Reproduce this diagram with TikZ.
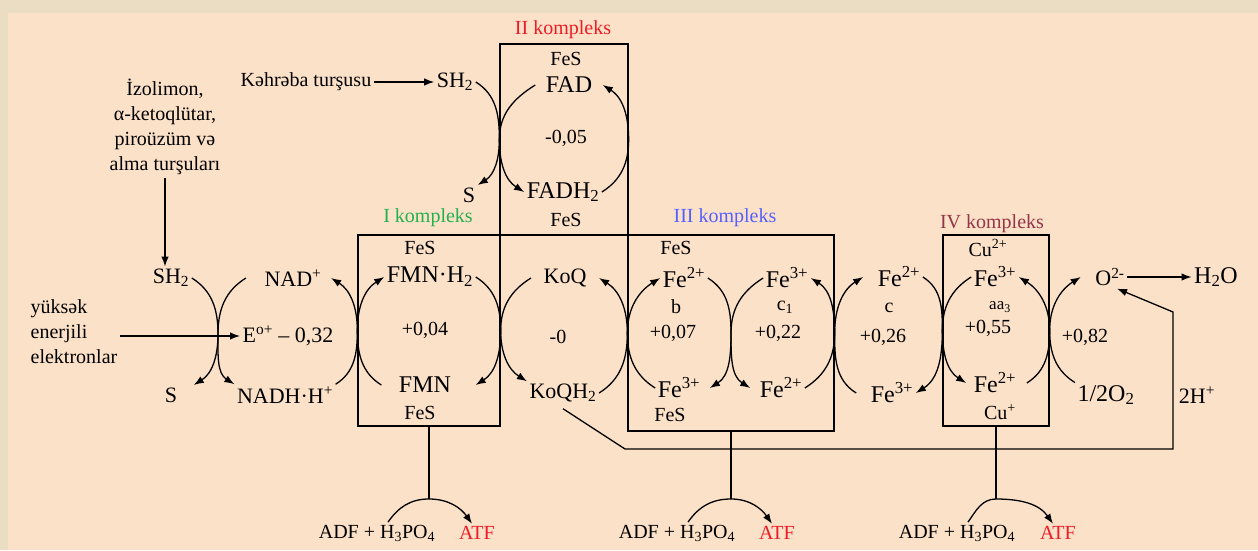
\documentclass[tikz,border=0pt]{standalone}
\usepackage{fontspec}
\setmainfont{Liberation Serif}
\usetikzlibrary{arrows.meta}
\definecolor{pagetan}{RGB}{234,221,196}
\definecolor{peach}{RGB}{252,225,201}
\definecolor{kred}{RGB}{238,28,36}
\definecolor{kgreen}{RGB}{34,177,76}
\definecolor{kblue}{RGB}{84,96,255}
\definecolor{kbrown}{RGB}{150,52,72}

\begin{document}
\begin{tikzpicture}[x=1pt,y=1pt,line width=1.3pt,
  big/.style={inner sep=2pt, font=\fontsize{24}{26}\selectfont},
  chem/.style={inner sep=2pt, font=\fontsize{22}{24}\selectfont},
  note/.style={inner sep=2pt, font=\fontsize{20}{25}\selectfont},
  cplx/.style={draw, inner sep=0pt},
  arr/.style={-{Latex[length=10pt,width=7.5pt]}}]
  % page
  \fill[pagetan] (0,0) rectangle (1258,550);
  \fill[peach] (8,0) rectangle (1258,537);
  \useasboundingbox (0,0) rectangle (1258,550);
  % complexes
  \node[cplx, minimum width=142pt, minimum height=191pt] (boxI) at (429,219.5) {};
  \node[cplx, minimum width=128pt, minimum height=191pt] (boxII) at (564,410.5) {};
  \node[cplx, minimum width=206pt, minimum height=196pt] (boxIII) at (731,217) {};
  \node[cplx, minimum width=106pt, minimum height=191pt] (boxIV) at (996,219.5) {};
  \node[note, text=kred] (kII) at (563,520) {II kompleks};
  \node[note, text=kgreen] (kI) at (428,332) {I kompleks};
  \node[note, text=kblue] (kIII) at (725,332) {III kompleks};
  \node[note, text=kbrown] (kIV) at (992,326) {IV kompleks};
  % substrates
  \node[note, align=center] (izol) at (165,423) {İzolimon,\\α-ketoqlütar,\\piroüzüm və\\alma turşuları};
  \node[note] (kah) at (306,468) {Kəhrəba turşusu};
  \node[note, align=left, anchor=west] (yuk) at (28,218) {yüksək\\enerjili\\elektronlar};
  \node[chem] (sh2a) at (455,468) {SH\textsubscript{2}};
  \node[chem] (s2) at (469,355) {S};
  \node[chem] (sh2b) at (171,272) {SH\textsubscript{2}};
  \node[chem] (s1) at (171,155) {S};
  \node[chem] (nad) at (293,272) {NAD\textsuperscript{+}};
  \node[chem] (nadh) at (285,155) {NADH·H\textsuperscript{+}};
  \node[chem, anchor=west] (e1) at (240,214) {E\textsuperscript{o+} – 0,32};
  % II kompleks
  \node[note] (fes2a) at (566,491) {FeS};
  \node[big] (fad) at (569,465) {FAD};
  \node[note] (e2) at (566,412) {-0,05};
  \node[big] (fadh) at (563,358) {FADH\textsubscript{2}};
  \node[note] (fes2b) at (566,330) {FeS};
  % I kompleks
  \node[note] (fes1a) at (420,302) {FeS};
  \node[big] (fmnh) at (430,273) {FMN·H\textsubscript{2}};
  \node[note] (e3) at (425,220) {+0,04};
  \node[big] (fmn) at (425,165) {FMN};
  \node[note] (fes1b) at (420,137) {FeS};
  % ubiquinone
  \node[chem] (koq) at (565,272) {KoQ};
  \node[note] (e4) at (558,213) {-0};
  \node[chem] (koqh) at (563,157) {KoQH\textsubscript{2}};
  % III kompleks
  \node[note] (fes3a) at (676,302) {FeS};
  \node[big] (fe2a) at (684,272) {Fe\textsuperscript{2+}};
  \node[note] (lb) at (676,243) {b};
  \node[note] (e5) at (673,217) {+0,07};
  \node[big] (fe3a) at (679,162) {Fe\textsuperscript{3+}};
  \node[note] (fes3b) at (670,135) {FeS};
  \node[big] (fe3b) at (787,272) {Fe\textsuperscript{3+}};
  \node[note] (lc1) at (785,243) {c\textsubscript{1}};
  \node[note] (e6) at (778,217) {+0,22};
  \node[big] (fe2b) at (781,162) {Fe\textsuperscript{2+}};
  % cytochrome c
  \node[big] (fe2c) at (899,273) {Fe\textsuperscript{2+}};
  \node[note] (lc) at (889,242) {c};
  \node[note] (e7) at (883,213) {+0,26};
  \node[big] (fe3c) at (892,157) {Fe\textsuperscript{3+}};
  % IV kompleks
  \node[note] (cu2) at (988,302) {Cu\textsuperscript{2+}};
  \node[big] (fe3d) at (995,273) {Fe\textsuperscript{3+}};
  \node[note, font=\fontsize{17}{20}\selectfont] (aa) at (1000,243) {aa\textsubscript{3}};
  \node[note] (e8) at (988,222) {+0,55};
  \node[big] (fe2d) at (995,167) {Fe\textsuperscript{2+}};
  \node[note] (cu1) at (1000,138) {Cu\textsuperscript{+}};
  % oxygen
  \node[chem] (o2) at (1110,273) {O\textsuperscript{2-}};
  \node[big] (h2o) at (1216,273) {H\textsubscript{2}O};
  \node[note] (e9) at (1085,213) {+0,82};
  \node[big] (half) at (1106,155) {1/2O\textsubscript{2}};
  \node[chem] (hplus) at (1197,155) {2H\textsuperscript{+}};
  % phosphorylation
  \foreach \i/\xa/\xb in {1/377/477, 2/677/777, 3/957/1058} {
    \node[note] (adf\i) at (\xa,17) {ADF + H\textsubscript{3}PO\textsubscript{4}};
    \node[note, text=kred] (atf\i) at (\xb,17) {ATF};
  }
  \coordinate (x1) at (218,216);
  \coordinate (base) at (0,51);
  % straight feeds
  \draw[arr] (kah.east) -- (sh2a.west);
  \draw[arr] (izol.south) -- (izol.south |- sh2b.north);
  \draw[arr] (yuk.east |- e1.west) -- (e1.west);
  \draw[arr] (o2.east) -- (h2o.west);
  % right bulge, arrow at the bottom
  \foreach \a/\sa/\c/\b/\sb in {
    sh2b.east/0pt/x1/s1.north east/14pt,
    fmnh.east/0pt/boxI.east/fmn.east/22pt,
    fe2a.east/0pt/boxIII.center/fe3a.east/7pt,
    fe2c.east/0pt/boxIV.west/fe3c.east/0pt,
    sh2a.east/0pt/boxII.west/s2.north east/0pt}
    \draw[arr] ([xshift=\sa]\a) to[out=-32,in=90] (\c) to[out=-90,in=32] ([xshift=\sb]\b);
  % left bulge, arrow at the bottom
  \foreach \a/\sa/\c/\b/\sb in {
    nad.west/-16pt/x1/nadh.north west/0pt,
    koq.west/-10pt/boxI.east/koqh.north west/0pt,
    fe3b.west/0pt/boxIII.center/fe2b.west/-7pt,
    fe3d.west/0pt/boxIV.west/fe2d.west/-5pt,
    fad.west/-8pt/boxII.west/fadh.west/0pt}
    \draw[arr] ([xshift=\sa]\a) to[out=-148,in=90] (\c) to[out=-90,in=148] ([xshift=\sb]\b);
  % right bulge, arrow at the top
  \foreach \b/\sb/\c/\a/\sa in {
    nadh.north east/0pt/boxI.west/nad.east/7pt,
    koqh.east/0pt/boxIII.west/koq.east/10pt,
    fe2b.east/0pt/boxIII.east/fe3b.east/0pt,
    fe2d.east/8pt/boxIV.east/fe3d.east/0pt,
    fadh.east/0pt/boxII.east/fad.east/8pt}
    \draw[arr] ([xshift=\sb]\b) to[out=32,in=-90] (\c) to[out=90,in=-32] ([xshift=\sa]\a);
  % left bulge, arrow at the top
  \foreach \b/\sb/\c/\a/\sa in {
    fmn.west/-15pt/boxI.west/fmnh.west/0pt,
    fe3a.west/0pt/boxIII.west/fe2a.west/0pt,
    fe3c.west/-12pt/boxIII.east/fe2c.west/-12pt,
    half.north west/0pt/boxIV.east/o2.west/-12pt}
    \draw[arr] ([xshift=\sb]\b) to[out=148,in=-90] (\c) to[out=90,in=-148] ([xshift=\sa]\a);
  % protons to oxygen
  \coordinate (k1) at (625,101);
  \coordinate (k2) at (1173,101);
  \coordinate (k3) at (1173,238);
  \draw[arr] ([yshift=-4pt]koqh.south) -- (k1) -- (k2) -- (k3) -- ([xshift=7pt]o2.south);
  % ATF synthesis
  \foreach \i/\bx in {1/boxI, 2/boxIII, 3/boxIV} {
    \coordinate (p\i) at (\bx.south |- base);
    \draw (\bx.south) -- (p\i);
    \draw[arr] ([xshift=11pt]adf\i.north) to[out=55,in=180] (p\i) to[out=0,in=125] ([xshift=-5pt]atf\i.north);
  }
\end{tikzpicture}
\end{document}
